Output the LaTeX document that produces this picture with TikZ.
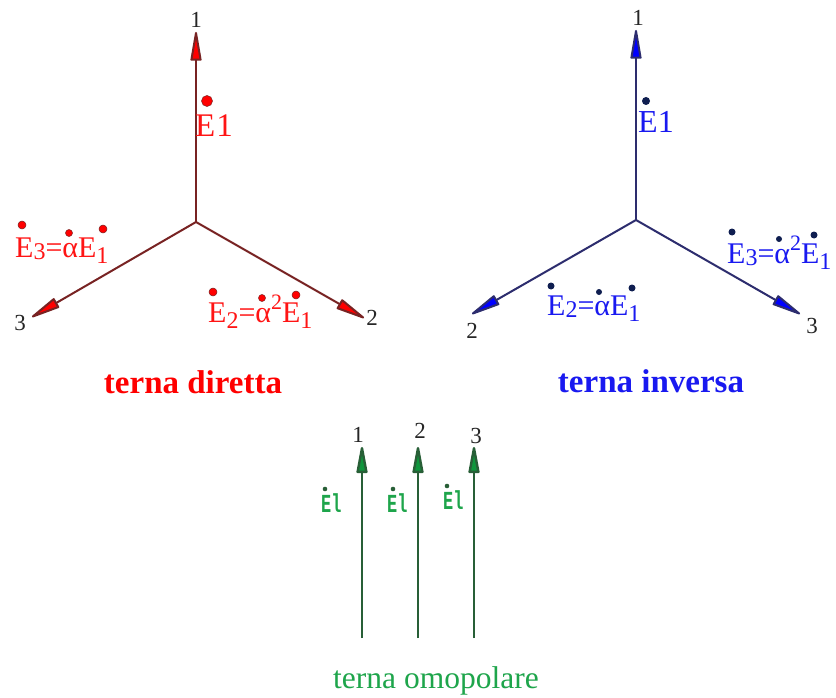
\documentclass[tikz,border=0pt]{standalone}
\usepackage{fontspec}
\setmainfont{Liberation Serif}
\newfontfamily\monofam{Liberation Mono}
\usetikzlibrary{arrows.meta}
\definecolor{txtred}{RGB}{255,20,20}
\definecolor{linered}{RGB}{120,35,35}
\definecolor{txtblue}{RGB}{25,25,240}
\definecolor{lineblue}{RGB}{45,45,110}
\definecolor{dotblue}{RGB}{15,30,80}
\definecolor{txtgreen}{RGB}{30,165,75}
\definecolor{linegreen}{RGB}{40,95,55}
\definecolor{headgreen}{RGB}{15,150,60}
\newcommand\lo[2]{\raisebox{-#1pt}{\fontsize{24}{24}\selectfont #2}}
\newcommand\hi[1]{\raisebox{13pt}{\fontsize{22}{22}\selectfont #1}}
\tikzset{
  redvec/.style={draw=linered, line width=2pt, line join=round,
    -{Triangle[length=34pt,width=11pt,fill=red,round]}},
  bluevec/.style={draw=lineblue, line width=2pt, line join=round,
    -{Triangle[length=34pt,width=11pt,fill=blue,round]}},
  greenvec/.style={draw=linegreen, line width=2.4pt, line join=round,
    -{Triangle[length=32pt,width=11pt,fill=headgreen,round]}},
  num/.style={font=\fontsize{23}{23}\selectfont, text=black!85, inner sep=0pt},
  redlbl/.style={font=\fontsize{30}{30}\selectfont, text=txtred, inner sep=0pt, anchor=base west},
  bluelbl/.style={font=\fontsize{30}{30}\selectfont, text=txtblue, inner sep=0pt, anchor=base west},
  greenlbl/.style={font=\monofam\bfseries\fontsize{26}{26}\selectfont, text=txtgreen, inner sep=0pt, anchor=base west},
  reddot/.style={fill=red, draw=linered, line width=0.5pt},
  bluedot/.style={fill=dotblue},
  greendot/.style={fill=linegreen},
  title/.style={font=\fontsize{33}{33}\selectfont\bfseries, inner sep=0pt, anchor=base},
}
\begin{document}
\begin{tikzpicture}[x=1pt,y=-1pt]
\useasboundingbox[fill=white] (0,0) rectangle (836,698);
% ---------- terna diretta ----------
\coordinate (O1) at (196,222);
\coordinate (L1a) at (196,32);
\coordinate (L1b) at (364,318);
\coordinate (L1c) at (32,317);
\draw[redvec] (O1) -- (L1a);
\draw[redvec] (O1) -- (L1b);
\draw[redvec] (O1) -- (L1c);
\node[num] (n1a) at (196,20) {1};
\node[num] (n1b) at (372,318) {2};
\node[num] (n1c) at (20,323) {3};
\fill[reddot] (207,101) circle (5.5);
\node[redlbl, font=\fontsize{33}{33}\selectfont] (e1a) at (195,137) {E\hspace{1pt}1};
\fill[reddot] (22,225) circle (4);
\fill[reddot] (69,233) circle (3.5);
\fill[reddot] (103,229) circle (4);
\node[redlbl] (e3a) at (15,257) {E\lo{2}{3}=αE\lo{6}{1}};
\fill[reddot] (213,292) circle (4);
\fill[reddot] (262,298) circle (3.5);
\fill[reddot] (296,295) circle (4);
\node[redlbl] (e2a) at (208,322) {E\lo{6}{2}=α\hi{2}E\lo{6}{1}};
\node[title, text=red] (t1) at (193,393) {terna diretta};
% ---------- terna inversa ----------
\coordinate (O2) at (636,220);
\coordinate (L2a) at (636,30);
\coordinate (L2b) at (472,314);
\coordinate (L2c) at (800,314);
\draw[bluevec] (O2) -- (L2a);
\draw[bluevec] (O2) -- (L2b);
\draw[bluevec] (O2) -- (L2c);
\node[num] (n2a) at (638,18) {1};
\node[num] (n2b) at (472,331) {2};
\node[num] (n2c) at (812,326) {3};
\fill[bluedot] (646,101) circle (4);
\node[bluelbl, font=\fontsize{32}{32}\selectfont] (e1b) at (638,133) {E1};
\fill[bluedot] (732,232) circle (3.5);
\fill[bluedot] (779,239) circle (3);
\fill[bluedot] (814,235) circle (3.5);
\node[bluelbl] (e3b) at (727,263) {E\lo{2}{3}=α\hi{2}E\lo{6}{1}};
\fill[bluedot] (551,286) circle (3.5);
\fill[bluedot] (599,292) circle (3);
\fill[bluedot] (632,288) circle (3.5);
\node[bluelbl] (e2b) at (547,315) {E\lo{2}{2}=αE\lo{6}{1}};
\node[title, text=txtblue] (t2) at (651,392) {terna inversa};
% ---------- terna omopolare ----------
\coordinate (G1b) at (362,638);
\coordinate (G1t) at (362,447);
\coordinate (G2b) at (418,638);
\coordinate (G2t) at (418,447);
\coordinate (G3b) at (474,638);
\coordinate (G3t) at (474,447);
\draw[greenvec] (G1b) -- (G1t);
\draw[greenvec] (G2b) -- (G2t);
\draw[greenvec] (G3b) -- (G3t);
\node[num] (n3a) at (358,435) {1};
\node[num] (n3b) at (420,431) {2};
\node[num] (n3c) at (476,436) {3};
\fill[greendot] (325,489) circle (2.3);
\node[greenlbl] (g1) at (321,512) {\scalebox{0.65}[1]{El}};
\fill[greendot] (393,489) circle (2.3);
\node[greenlbl] (g2) at (387,512) {\scalebox{0.65}[1]{El}};
\fill[greendot] (447,486) circle (2.3);
\node[greenlbl] (g3) at (443,509) {\scalebox{0.65}[1]{El}};
\node[font=\fontsize{31.5}{31.5}\selectfont, text=txtgreen, inner sep=0pt, anchor=base] (t3) at (436,688) {terna omopolare};
\end{tikzpicture}
\end{document}
